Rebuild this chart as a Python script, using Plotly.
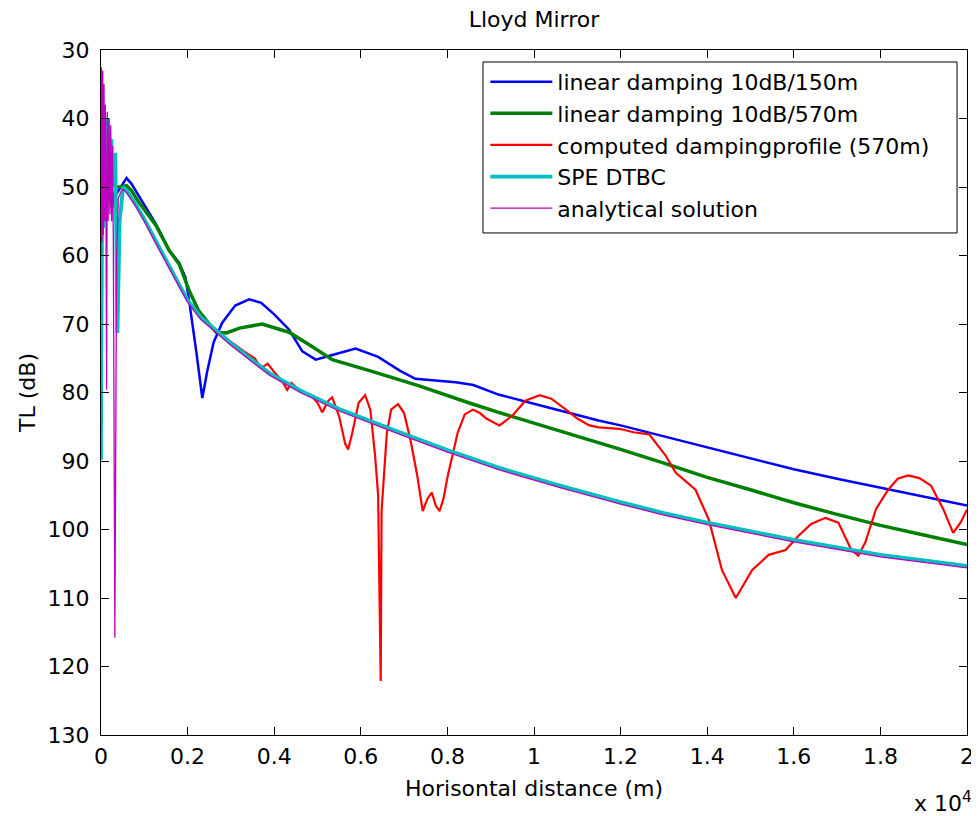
import plotly.graph_objects as go

# ---------------- data (distance in metres, TL in dB) ----------------
blue_x = [0, 3, 8, 20, 40, 80, 150, 250, 350, 440, 590, 700, 850, 1000, 1270, 1580,
          1800, 1950, 2040, 2200, 2340, 2450, 2600, 2800, 3100, 3420, 3700, 4000,
          4340, 4650, 4960, 5300, 5880, 6400, 6900, 7260, 7800, 8190, 8600, 9180,
          10330, 11490, 12000, 13000, 14000, 15000, 16000, 17000, 18000, 19000, 20000]
blue_tl = [36, 80, 44, 52, 46, 51, 48, 52, 51, 50, 48.7, 49.5, 51, 52.5, 55.4, 59.3,
           61, 63.2, 66.8, 74, 80.8, 77, 72.7, 69.8, 67.3, 66.4, 66.9, 68.6,
           70.8, 74, 75.2, 74.6, 73.6, 74.8, 76.8, 78.0, 78.3, 78.5, 78.9, 80.3,
           82.2, 84.1, 84.8, 86.4, 88.0, 89.6, 91.2, 92.6, 93.9, 95.2, 96.5]

green_x = [0, 3, 8, 20, 40, 80, 150, 250, 350, 440, 590, 700, 850, 1000, 1270, 1580,
           1810, 2040, 2250, 2500, 2660, 2900, 3200, 3720, 4340, 4800, 5340, 6200,
           6880, 7330, 8490, 9180, 10590, 11490, 12000, 13000, 14000, 15000, 16000,
           17000, 18000, 19000, 20000]
green_tl = [38, 84.8, 42, 55, 45, 52, 47, 53, 50, 50, 49.8, 50.5, 52, 53.3, 55.6, 59.3,
            61.3, 65.2, 68, 70, 71.2, 71.3, 70.6, 70.0, 71.2, 73.0, 75.2, 76.8,
            78.1, 79.0, 81.5, 82.9, 85.6, 87.3, 88.3, 90.3, 92.4, 94.2, 96.1,
            97.8, 99.4, 100.8, 102.2]

red_x = [510, 600, 800, 1000, 1270, 1580, 1810, 2000, 2300, 2730, 3000, 3300, 3550,
         3700, 3850, 4000, 4200, 4300, 4400, 4500, 4620, 4830, 5000, 5110, 5250, 5340,
         5500, 5640, 5710, 5800, 5950, 6100, 6220, 6330, 6400, 6440, 6460, 6480, 6520,
         6600, 6700, 6860, 7000, 7150, 7300, 7430, 7540, 7640, 7730, 7820, 7910, 8010,
         8240, 8400, 8590, 8750, 8900, 9200, 9500, 9800, 10130, 10400, 10740, 11000,
         11280, 11500, 11970, 12300, 12660, 13040, 13270, 13500, 13730, 14040, 14340,
         14660, 15040, 15420, 15810, 16110, 16400, 16730, 17030, 17330, 17490, 17650,
         17900, 18180, 18400, 18640, 18900, 19170, 19450, 19680, 19850, 20000]
red_tl = [50.0, 50.6, 52.5, 54.7, 58.0, 61.7, 64.3, 66.5, 69, 71.3, 72.6, 74.0, 75.0,
          76.4, 75.8, 77.0, 78.5, 79.6, 78.6, 79.2, 79.9, 80.3, 81.5, 82.9, 81.2, 80.7,
          83.5, 87.5, 88.3, 86, 81.5, 80.4, 82.5, 89.2, 95, 113, 122.1, 97.3, 93,
          86, 82.5, 81.7, 83, 87, 92, 97.3, 95.5, 94.6, 96.5, 97.3, 95.5, 92.1,
          85.8, 83.2, 82.5, 83, 83.8, 84.8, 83.4, 81.2, 80.4, 80.9, 82.5, 83.8,
          84.8, 85.1, 85.3, 85.8, 86.1, 89.2, 91.7, 93.0, 94.2, 98.6, 105.9,
          110, 105.9, 103.7, 103.0, 100.9, 99.2, 98.3, 99.0, 103.0, 103.8, 101.9,
          97, 94.2, 92.6, 92.1, 92.5, 93.6, 97, 100.5, 99, 97.1]

cyan_x = [0, 8, 20, 35, 50, 65, 80, 100, 120, 160, 200, 240, 280, 330, 380, 430, 510,
          600, 800, 1000, 1270, 1580, 1810, 2000, 2300, 2730, 3000, 3500, 3900, 4600,
          5500, 6900, 8000, 9200, 10600, 12000, 13000, 14000, 15000, 16000, 17000,
          18000, 19000, 20000]
cyan_tl = [89.8, 36, 52, 38, 56, 40, 50, 42, 48, 40, 51, 43, 50, 45, 71.3, 55, 50.0,
           50.6, 52.5, 54.7, 58.0, 61.7, 64.3, 66.5, 69, 71.3, 72.8, 75.3, 77.2, 79.7,
           82.4, 85.8, 88.4, 91.0, 93.6, 96.0, 97.6, 99.0, 100.3, 101.5, 102.6,
           103.7, 104.5, 105.3]

mag_x = [0, 10, 25, 40, 55, 70, 85, 100, 115, 130, 145, 165, 185, 205, 225, 245, 265,
         285, 320, 360, 400, 450, 510, 600, 800, 1000, 1270, 1580, 1810, 2000, 2300,
         2730, 3000, 3500, 3900, 4600, 5500, 6900, 8000, 9200, 10600, 12000, 13000,
         14000, 15000, 16000, 17000, 18000, 19000, 20000]
mag_tl = [60, 32.5, 58, 33, 57, 35, 55, 38, 54, 79.6, 39, 55, 40, 54, 41, 55, 44,
          58, 115.8, 60, 51.7, 50.8, 50.3, 50.9, 52.8, 55.0, 58.3, 62.0, 64.6, 66.8, 69.3,
          71.6, 73.1, 75.6, 77.5, 80.0, 82.7, 86.1, 88.7, 91.3, 93.9, 96.3, 97.9,
          99.3, 100.6, 101.8, 102.9, 104.0, 104.8, 105.6]

names = ["linear damping 10dB/150m", "linear damping 10dB/570m",
         "computed dampingprofile (570m)", "SPE DTBC", "analytical solution"]

x_tick_vals = [0, 2000, 4000, 6000, 8000, 10000, 12000, 14000, 16000, 18000, 20000]
x_tick_text = ["0", "0.2", "0.4", "0.6", "0.8", "1", "1.2", "1.4", "1.6", "1.8", "2"]
y_tick_vals = [30, 40, 50, 60, 70, 80, 90, 100, 110, 120, 130]

# ---------------- figure ----------------
FONT = "DejaVu Sans"
series = [
    (names[0], blue_x, blue_tl, "rgb(0,0,255)", 2.5),
    (names[1], green_x, green_tl, "rgb(0,128,0)", 3.5),
    (names[2], red_x, red_tl, "rgb(255,0,0)", 2.2),
    (names[3], cyan_x, cyan_tl, "rgb(0,191,191)", 3.8),
    (names[4], mag_x, mag_tl, "rgb(191,0,191)", 1.3),
]

fig = go.Figure()
for nm, xs, ys, col, w in series:
    fig.add_trace(go.Scatter(x=xs, y=ys, mode="lines", name=nm,
                             line=dict(color=col, width=w)))

axis_common = dict(
    showline=True, linecolor="black", linewidth=1, mirror="ticks",
    ticks="inside", ticklen=8, tickcolor="black", tickwidth=1,
    showgrid=False, zeroline=False, automargin=False,
    tickfont=dict(family=FONT, size=22, color="black"),
)

# the page body adds an 8 px offset; margins below compensate for it
fig.update_layout(
    width=979, height=816, autosize=False,
    margin=dict(l=93, r=20, t=42, b=89),
    paper_bgcolor="white", plot_bgcolor="white",
    font=dict(family=FONT, size=22, color="black"),
    title=dict(text="Lloyd Mirror", x=0.5, xref="paper", xanchor="center",
               y=1 - 11 / 816, yref="container", yanchor="middle",
               font=dict(family=FONT, size=22, color="black")),
    xaxis=dict(range=[0, 20000], tickmode="array", tickvals=x_tick_vals,
               ticktext=x_tick_text, ticklabelstandoff=2,
               title=dict(text="Horisontal distance (m)", standoff=12,
                          font=dict(family=FONT, size=22, color="black")),
               **axis_common),
    yaxis=dict(range=[130, 30], tickmode="array", tickvals=y_tick_vals,
               ticklabelstandoff=6,
               title=dict(text="TL (dB)", standoff=5,
                          font=dict(family=FONT, size=22, color="black")),
               **axis_common),
    legend=dict(x=0.4438, xanchor="left", y=0.984, yanchor="top",
                bgcolor="rgba(0,0,0,0)", borderwidth=0,
                font=dict(family=FONT, size=22, color="black"),
                itemwidth=62),
    showlegend=True,
    # white framed box behind the legend entries (legend frame)
    shapes=[dict(type="rect", xref="paper", yref="paper",
                 x0=0.4411, x1=0.9885, y0=0.7329, y1=0.9825,
                 line=dict(color="black", width=1), fillcolor="white",
                 layer="above")],
    annotations=[dict(text="x 10<sup>4</sup>", xref="paper", yref="paper",
                      x=1.008, y=-0.098, xanchor="right", yanchor="middle",
                      showarrow=False,
                      font=dict(family=FONT, size=22, color="black"))],
)

fig.write_html("out.html")
